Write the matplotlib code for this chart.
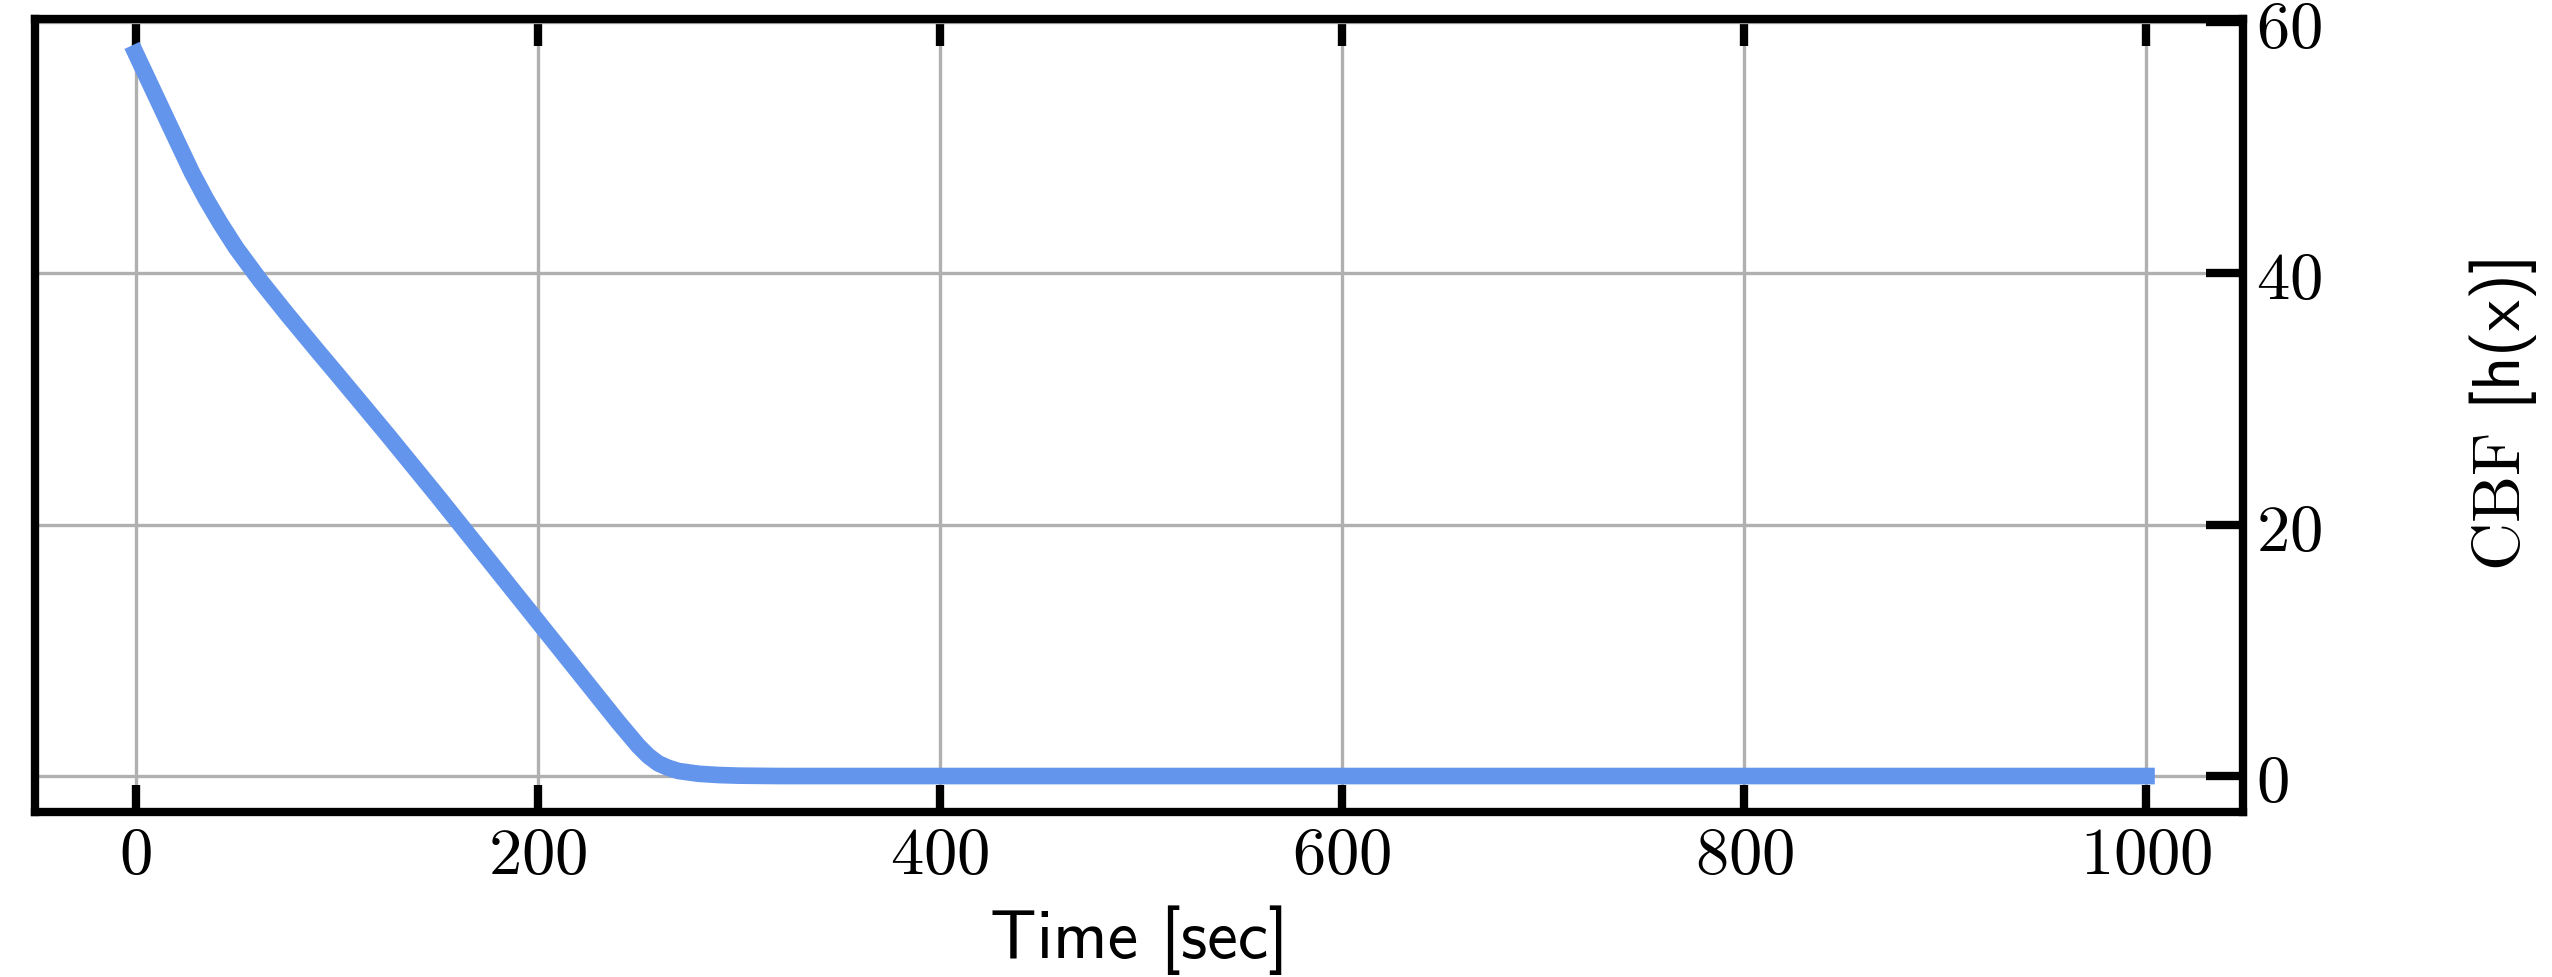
import matplotlib
matplotlib.use("Agg")
import matplotlib.pyplot as plt
from matplotlib.ticker import FixedLocator, FixedFormatter

plt.rcParams['mathtext.fontset'] = 'cm'

# Data
time_s = [0, 10, 20, 28, 35, 42, 50, 62, 75, 90, 100, 125, 150, 175, 200,
          225, 240, 250, 255, 260, 265, 270, 280, 290, 300, 320, 400, 600, 800, 1000]
cbf = [57.5, 54.1, 50.7, 48.0, 45.9, 44.0, 42.0, 39.4, 36.8, 33.9, 32.0, 27.2,
       22.3, 17.3, 12.3, 7.3, 4.3, 2.4, 1.6, 1.0, 0.65, 0.4, 0.18, 0.08, 0.03,
       0.0, 0.0, 0.0, 0.0, 0.0]

xticks = [0, 200, 400, 600, 800, 1000]
xtick_labels = ['$0$', '$200$', '$400$', '$600$', '$800$', '$1000$']
yticks = [0, 20, 40, 60]
ytick_labels = ['$0$', '$20$', '$40$', '$60$']

DPI = 300
fig = plt.figure(figsize=(2552 / DPI, 977 / DPI), dpi=DPI)
ax = fig.add_axes([35 / 2552, 1 - 812 / 977, (2243 - 35) / 2552, (812 - 19) / 977])

ax.plot(time_s, cbf, color='#6495ED', lw=4.0, zorder=3)

ax.set_xlim(-50, 1048)
ax.set_ylim(-2.86, 60.2)

ax.xaxis.set_major_locator(FixedLocator(xticks))
ax.xaxis.set_major_formatter(FixedFormatter(xtick_labels))
ax.yaxis.set_major_locator(FixedLocator(yticks))
ax.yaxis.set_major_formatter(FixedFormatter(ytick_labels))

ax.grid(True, color='#b0b0b0', lw=0.8, zorder=0)
ax.set_axisbelow(True)

for s in ax.spines.values():
    s.set_linewidth(2.0)
    s.set_color('black')

ax.tick_params(axis='x', which='major', direction='in', top=True, bottom=True,
               labeltop=False, labelbottom=True, length=6.5, width=2.0,
               labelsize=16, pad=2.5)
ax.tick_params(axis='y', which='major', direction='in', left=False, right=True,
               labelleft=False, labelright=True, length=9, width=2.0,
               labelsize=16, pad=3)

ax.set_xlabel('Time [sec]', fontsize=16.5, fontfamily='cmss10', labelpad=4)
ax.yaxis.set_label_position('right')
ax.set_ylabel(r'$\mathrm{CBF}$ [h(x)]', fontsize=16, fontfamily='cmss10',
              labelpad=35, rotation=90)

fig.savefig('out.png', dpi=DPI)
